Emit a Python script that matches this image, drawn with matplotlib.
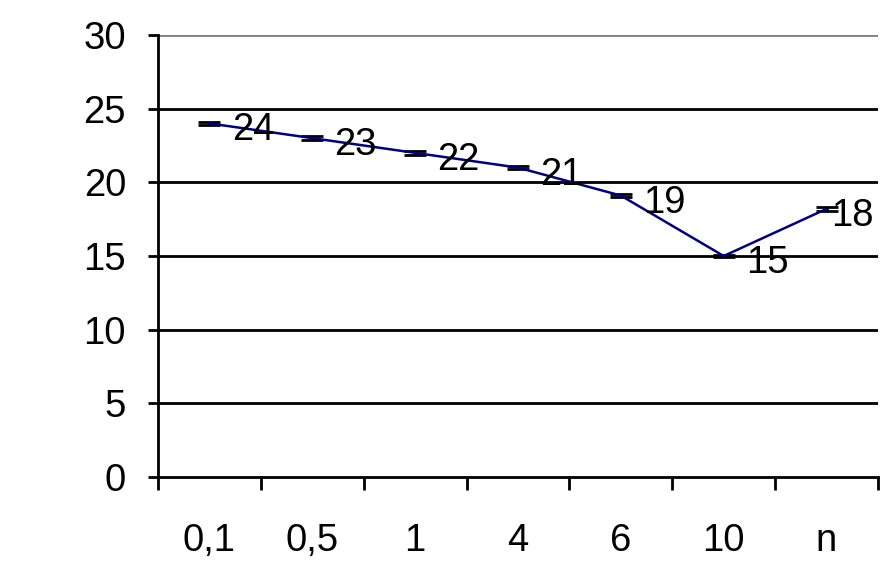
import matplotlib
matplotlib.use("Agg")
import matplotlib.pyplot as plt
import numpy as np

categories = ["0,1", "0,5", "1", "4", "6", "10", "n"]
values = [24.0, 23.0, 22.0, 21.0, 19.1, 15.0, 18.2]
errors = [0.12, 0.12, 0.15, 0.12, 0.12, 0.1, 0.12]
labels = ["24", "23", "22", "21", "19", "15", "18"]

plt.rcParams["font.family"] = ["Liberation Sans", "DejaVu Sans"]

fig = plt.figure(figsize=(8.8, 5.8), dpi=100)
ax = fig.add_axes([158 / 880, 103 / 580, 720 / 880, 442 / 580])

x = np.arange(len(categories))
ax.errorbar(x, values, yerr=errors, color="#000080", lw=1.8,
            ecolor="black", elinewidth=2, capsize=8, capthick=2, zorder=3)
for i, (xi, v, t) in enumerate(zip(x, values, labels)):
    # last label is squeezed against the right edge, as in the original
    dx = 3 if i == len(labels) - 1 else 16
    ax.annotate(t, (xi, v), xytext=(dx, -5), textcoords="offset points",
                ha="left", va="center", fontsize=27.5, zorder=4)

ax.set_ylim(0, 30)
ax.set_xlim(-0.5, len(categories) - 0.5)
ax.set_yticks(range(0, 31, 5))
for yv in range(5, 30, 5):
    ax.axhline(yv, color="black", lw=2, zorder=1)
ax.axhline(30, color="#808080", lw=2, zorder=1)

ax.set_xticks(x)
ax.set_xticklabels(categories)
ax.set_xticks(np.arange(-0.5, len(categories) - 0.4, 1), minor=True)
ax.tick_params(axis="x", which="major", length=0, pad=33, labelsize=27.5)
ax.tick_params(axis="x", which="minor", length=9, width=2, direction="out")
ax.tick_params(axis="y", length=7, width=2, pad=16, labelsize=27.5)

for s in ["top", "right"]:
    ax.spines[s].set_visible(False)
ax.spines["left"].set_linewidth(2)
ax.spines["bottom"].set_linewidth(2)

fig.savefig("out.png", dpi=100)
